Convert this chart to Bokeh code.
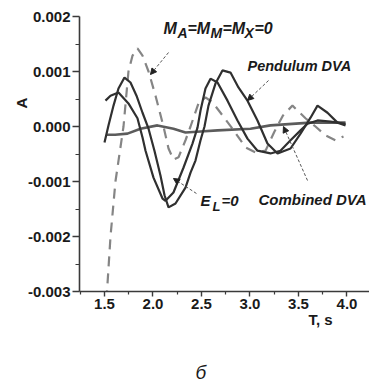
import math
from bokeh.plotting import figure
from bokeh.models import (Range1d, FixedTicker, NumeralTickFormatter, Label, Arrow, NormalHead, Title)
from bokeh.embed import file_html
from bokeh.resources import INLINE

# ---------------- data ----------------
# Pendulum DVA (solid, later phase, larger amplitude)
pend_t = [1.500, 1.541, 1.593, 1.644, 1.706, 1.768, 1.830, 1.892, 1.954, 2.015, 2.077, 2.119,
          2.160, 2.232, 2.335, 2.387, 2.438, 2.490, 2.531, 2.572, 2.644, 2.716, 2.799, 2.881,
          2.974, 3.077, 3.180, 3.284, 3.418, 3.521, 3.624, 3.696, 3.799, 3.902, 3.985]
pend_a = [-0.29, 0.02, 0.38, 0.69, 0.89, 0.80, 0.56, 0.25, -0.04, -0.44, -0.89, -1.25,
          -1.47, -1.40, -1.11, -0.84, -0.62, -0.25, 0.00, 0.38, 0.78, 1.02, 0.98, 0.71,
          0.47, 0.11, -0.31, -0.49, -0.40, -0.13, 0.16, 0.38, 0.25, 0.07, 0.02]

# E_L = 0 (solid, earlier phase)
el_t = [1.510, 1.562, 1.644, 1.747, 1.840, 1.892, 1.923, 2.005, 2.098, 2.129, 2.211, 2.314,
        2.407, 2.459, 2.490, 2.541, 2.593, 2.665, 2.768, 2.871, 2.974, 3.077, 3.211, 3.314,
        3.418, 3.521, 3.593, 3.696, 3.830, 3.985]
el_a = [0.47, 0.56, 0.62, 0.42, 0.15, -0.20, -0.44, -0.93, -1.31, -1.35, -1.20, -0.75,
        -0.31, -0.02, 0.29, 0.69, 0.87, 0.80, 0.47, 0.11, -0.22, -0.44, -0.49, -0.44,
        -0.25, -0.07, 0.05, 0.11, 0.09, 0.05]

# Combined DVA (nearly flat)
comb_t = [1.520, 1.610, 1.737, 1.871, 2.046, 2.211, 2.335, 2.490, 2.665, 3.005, 3.211, 3.624, 3.985]
comb_a = [-0.15, -0.15, -0.13, -0.04, 0.02, -0.04, -0.11, -0.09, -0.07, -0.04, 0.02, 0.07, 0.07]

# M_A = M_M = M_X = 0 (dashed)
m0_t = [1.520, 1.562, 1.613, 1.696, 1.747, 1.789, 1.840, 1.892, 1.954, 2.026, 2.108, 2.160,
        2.211, 2.263, 2.335, 2.387, 2.469, 2.541, 2.613, 2.696, 2.820, 2.954, 3.057, 3.160,
        3.250, 3.340, 3.438, 3.572, 3.675, 3.778, 3.880, 3.964]
m0_a = [-3.16, -2.00, -1.00, 0.00, 1.00, 1.29, 1.42, 1.29, 1.00, 0.56, 0.00, -0.40,
        -0.60, -0.56, -0.25, 0.00, 0.42, 0.53, 0.44, 0.25, -0.04, -0.38, -0.47, -0.44,
        -0.10, 0.20, 0.38, 0.15, 0.00, -0.16, -0.25, -0.18]

SCALE = 1e-3
x_ticks = [1.5, 2.0, 2.5, 3.0, 3.5, 4.0]
x_tick_labels = ["1.5", "2.0", "2.5", "3.0", "3.5", "4.0"]
x_minor = [1.25, 1.75, 2.25, 2.75, 3.25, 3.75, 4.25]
y_ticks = [-0.003, -0.002, -0.001, 0.0, 0.001, 0.002]
y_tick_labels = ["-0.003", "-0.002", "-0.001", "0.000", "0.001", "0.002"]
y_minor = [-0.0025, -0.0015, -0.0005, 0.0005, 0.0015]

# ---------------- figure ----------------
p = figure(width=369, height=381, output_backend="svg", toolbar_location=None,
           x_range=Range1d(1.2423, 4.232), y_range=Range1d(-0.003, 0.002))
p.min_border_left = 79
p.min_border_right = 0
p.min_border_top = 16
p.min_border_bottom = 90
p.outline_line_color = None
p.xgrid.visible = False
p.ygrid.visible = False
p.background_fill_color = "white"
p.border_fill_color = "white"

FONT = "Liberation Sans"
for ax in (p.xaxis[0], p.yaxis[0]):
    ax.axis_line_color = "#3a3a3a"
    ax.axis_line_width = 1.6
    ax.major_tick_line_color = "#3a3a3a"
    ax.minor_tick_line_color = "#3a3a3a"
    ax.major_tick_line_width = 1.4
    ax.minor_tick_line_width = 1.2
    ax.major_tick_in = 0
    ax.minor_tick_in = 0
    ax.major_label_text_font = FONT
    ax.major_label_text_font_style = "bold"
    ax.major_label_text_font_size = "15px"
    ax.major_label_text_color = "#1a1a1a"

p.xaxis.ticker = FixedTicker(ticks=x_ticks, minor_ticks=x_minor)
p.yaxis.ticker = FixedTicker(ticks=y_ticks, minor_ticks=y_minor)
p.xaxis.formatter = NumeralTickFormatter(format="0.0")
p.yaxis.formatter = NumeralTickFormatter(format="0.000")
p.xaxis.major_label_overrides = dict(zip(x_ticks, x_tick_labels))
p.yaxis.major_label_overrides = dict(zip(y_ticks, y_tick_labels))
p.xaxis.major_tick_out = 5
p.xaxis.minor_tick_out = 3
p.yaxis.major_tick_out = 7
p.yaxis.minor_tick_out = 4
p.xaxis.major_label_standoff = 2
p.yaxis.major_label_standoff = 2

# ---------------- curves ----------------
def sc(v):
    return [a * SCALE for a in v]

p.line(m0_t, sc(m0_a), line_color="#858585", line_width=2.2, line_dash="10 7")
p.line(comb_t, sc(comb_a), line_color="#5c5c5c", line_width=2.6)
p.line(el_t, sc(el_a), line_color="#303030", line_width=2.2)
p.line(pend_t, sc(pend_a), line_color="#303030", line_width=2.2)

# ---------------- arrows ----------------
def arrow(x0, y0, x1, y1):
    p.add_layout(Arrow(end=NormalHead(size=6, fill_color="#222222", line_color="#222222", line_width=1),
                       x_start=x0, y_start=y0, x_end=x1, y_end=y1,
                       line_color="#555555", line_width=1, line_dash="3 2"))

arrow(2.160, 0.001345, 1.974, 0.000945)
arrow(3.191, 0.000836, 2.974, 0.000473)
arrow(2.448, -0.001218, 2.211, -0.000945)
arrow(3.593, -0.000982, 3.345, 0.0000)

# ---------------- texts inside the plot ----------------
def lab(x, y, text, size="14.5px", style="bold italic", **kw):
    p.add_layout(Label(x=x, y=y, text=text, text_font=FONT, text_font_size=size,
                       text_font_style=style, text_color="#1a1a1a",
                       text_baseline="alphabetic", **kw))

dT = 1 / 97.0      # one pixel along T
dA = 1 / 55000.0   # one pixel along A

# M_A=M_M=M_X=0
bx, by = 2.108, 0.001782
lab(bx, by, "M", "16px")
lab(bx + 14 * dT, by - 5 * dA, "A", "14px")
lab(bx + 24 * dT, by, "=M", "16px")
lab(bx + 47 * dT, by - 5 * dA, "M", "14px")
lab(bx + 59 * dT, by, "=M", "16px")
lab(bx + 81 * dT, by - 5 * dA, "X", "14px")
lab(bx + 91 * dT, by, "=0", "16px")

lab(2.974, 0.001109, "Pendulum DVA")
lab(3.088, -0.001327, "Combined DVA", "15px")

# E_L=0
ex, ey = 2.490, -0.001345
lab(ex, ey, "E", "15px")
lab(ex + 12 * dT, ey - 6 * dA, "L", "13px")
lab(ex + 21 * dT, ey, "=0", "15px")

# ---------------- texts outside the frame (side-panel titles) ----------------
def side_title(text, side, size, style, **kw):
    p.add_layout(Title(text=text, text_font=FONT, text_font_size=size,
                       text_font_style=style, text_color="#1a1a1a", **kw), side)

side_title("A", "left", "15px", "bold", align="left", offset=183, standoff=-10)
side_title("T, s", "below", "15px", "bold", align="left", offset=229,
           vertical_align="top", standoff=-2)
side_title(" ", "below", "15px", "normal", standoff=19)
side_title("б", "below", "19px", "italic", align="left", offset=116,
           vertical_align="bottom", standoff=-14)

open("out.html", "w").write(file_html(p, INLINE))
